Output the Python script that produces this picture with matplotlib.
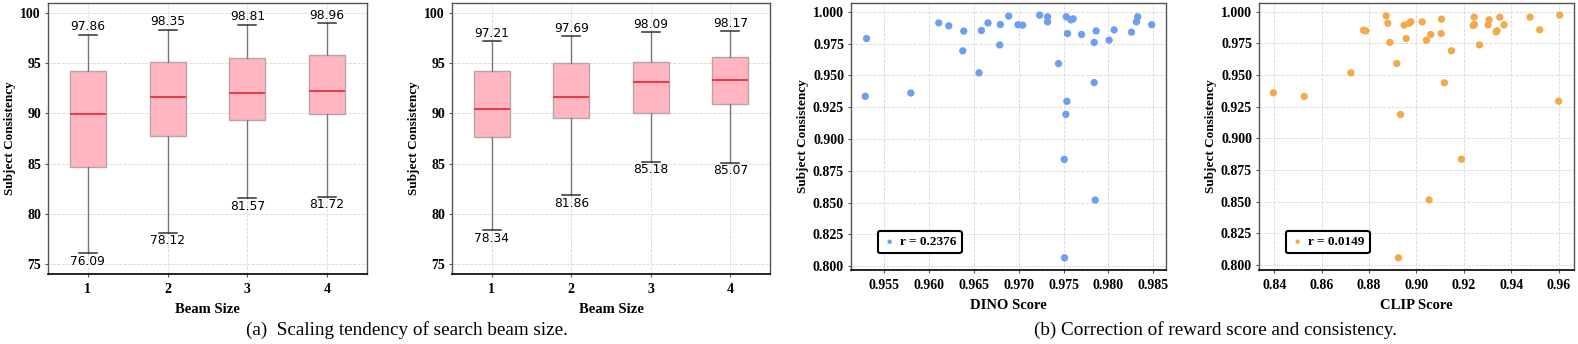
import matplotlib
matplotlib.use("Agg")
import matplotlib.pyplot as plt
import numpy as np

# ---------------- data ----------------
beam_sizes = [1, 2, 3, 4]

# panel (a-left)
a1_whislo = [76.09, 78.12, 81.57, 81.72]
a1_q1 = [84.62, 87.78, 89.30, 89.97]
a1_med = [89.94, 91.60, 92.03, 92.26]
a1_q3 = [94.25, 95.08, 95.52, 95.78]
a1_whishi = [97.86, 98.35, 98.81, 98.96]

# panel (a-right)
a2_whislo = [78.34, 81.86, 85.18, 85.07]
a2_q1 = [87.68, 89.57, 90.04, 90.94]
a2_med = [90.40, 91.63, 93.12, 93.32]
a2_q3 = [94.25, 95.05, 95.12, 95.62]
a2_whishi = [97.21, 97.69, 98.09, 98.17]

# panel (b-left): DINO score vs subject consistency
dino_x = [0.95307, 0.95293, 0.95800, 0.96111, 0.96222, 0.96389, 0.96378, 0.96559,
          0.96585, 0.96659, 0.96796, 0.96789, 0.96889, 0.96993, 0.97044, 0.97233,
          0.97322, 0.97322, 0.97444, 0.97530, 0.97544, 0.97581, 0.97607, 0.97537,
          0.97526, 0.97507, 0.97511, 0.97700, 0.97841, 0.97863, 0.97841, 0.97852,
          0.98007, 0.98063, 0.98256, 0.98311, 0.98326, 0.98481]
dino_y = [0.9790, 0.9336, 0.9362, 0.9913, 0.9890, 0.9848, 0.9693, 0.9520,
          0.9853, 0.9913, 0.9900, 0.9740, 0.9966, 0.9898, 0.9895, 0.9974,
          0.9961, 0.9921, 0.9593, 0.9961, 0.9829, 0.9937, 0.9945, 0.9297,
          0.9194, 0.8840, 0.8066, 0.9822, 0.9759, 0.9850, 0.9444, 0.8520,
          0.9777, 0.9858, 0.9840, 0.9921, 0.9961, 0.9898]
dino_r = "r = 0.2376"

# panel (b-right): CLIP score vs subject consistency
clip_x = [0.83960, 0.85265, 0.87232, 0.87766, 0.87864, 0.88721, 0.88791, 0.88875,
          0.89170, 0.89325, 0.89240, 0.89479, 0.89564, 0.89690, 0.89761, 0.90239,
          0.90422, 0.90534, 0.90604, 0.91040, 0.91054, 0.91180, 0.91475, 0.91897,
          0.92390, 0.92432, 0.92446, 0.92657, 0.93022, 0.93064, 0.93359, 0.93401,
          0.93514, 0.93696, 0.94792, 0.95199, 0.96042, 0.96000]
clip_y = [0.9360, 0.9331, 0.9518, 0.9855, 0.9850, 0.9968, 0.9910, 0.9758,
          0.9592, 0.9189, 0.8056, 0.9895, 0.9789, 0.9910, 0.9921, 0.9921,
          0.9776, 0.8514, 0.9821, 0.9829, 0.9942, 0.9439, 0.9692, 0.8836,
          0.9892, 0.9958, 0.9900, 0.9739, 0.9897, 0.9937, 0.9842, 0.9850,
          0.9958, 0.9897, 0.9958, 0.9858, 0.9974, 0.9294]
clip_r = "r = 0.0149"

caption_a = "(a)  Scaling tendency of search beam size."
caption_b = "(b) Correction of reward score and consistency."

# ---------------- style ----------------
SERIF = "Liberation Serif"
W, H = 1578, 344
fig = plt.figure(figsize=(W / 100, H / 100), dpi=100)


def rect(l, r, t, b):
    return [l / W, 1 - b / H, (r - l) / W, (b - t) / H]


def style_axes(ax):
    for name, sp in ax.spines.items():
        sp.set_color("#555555")
        sp.set_linewidth(1.0)
    ax.spines["bottom"].set_color("black")
    ax.spines["bottom"].set_linewidth(1.2)
    ax.grid(True, linestyle="--", color="#d8d8d8", linewidth=0.6)
    ax.set_axisbelow(True)
    ax.tick_params(labelsize=10, length=2.5, width=0.8, color="#555555")
    ax.tick_params(axis="y", pad=2.5)
    ax.tick_params(axis="x", pad=3.8)
    for lab in ax.get_xticklabels() + ax.get_yticklabels():
        lab.set_fontfamily(SERIF)
        lab.set_fontweight("bold")


def box_panel(ax, lo, q1, med, q3, hi):
    stats = []
    for i in range(len(beam_sizes)):
        stats.append(dict(whislo=lo[i], q1=q1[i], med=med[i], q3=q3[i],
                          whishi=hi[i], fliers=[]))
    ax.bxp(stats, positions=beam_sizes, widths=0.45, patch_artist=True,
           showfliers=False,
           boxprops=dict(facecolor="#ffb6c1", edgecolor="#b8a4a8", linewidth=1.0),
           medianprops=dict(color="#e8303a", linewidth=1.3),
           whiskerprops=dict(color="#777777", linewidth=1.0),
           capprops=dict(color="#333333", linewidth=1.1))
    for i, x in enumerate(beam_sizes):
        ax.text(x, hi[i] + 0.15, f"{hi[i]:.2f}", ha="center", va="bottom",
                fontsize=8.8, family="DejaVu Sans")
        ax.text(x, lo[i] - 0.15, f"{lo[i]:.2f}", ha="center", va="top",
                fontsize=8.8, family="DejaVu Sans")
    ax.set_xlim(0.5, 4.5)
    ax.set_ylim(74.0, 101.0)
    ax.set_yticks([75, 80, 85, 90, 95, 100])
    ax.set_xticks(beam_sizes)
    ax.set_xlabel("Beam Size", fontsize=10.5, fontweight="bold", family=SERIF, labelpad=5.5)
    ax.set_ylabel("Subject Consistency", fontsize=9.5, fontweight="bold", family=SERIF, labelpad=3)
    style_axes(ax)


ax1 = fig.add_axes(rect(48, 367, 3, 274))
box_panel(ax1, a1_whislo, a1_q1, a1_med, a1_q3, a1_whishi)
ax2 = fig.add_axes(rect(452, 770, 3, 274))
box_panel(ax2, a2_whislo, a2_q1, a2_med, a2_q3, a2_whishi)


def scatter_panel(ax, x, y, color, label, xlabel, xticks, fmt):
    ax.scatter(x, y, s=28, color=color, edgecolors="none", label=label, zorder=3)
    ax.set_xticks(xticks)
    ax.set_xticklabels([fmt.format(v) for v in xticks])
    ax.set_yticks([0.800, 0.825, 0.850, 0.875, 0.900, 0.925, 0.950, 0.975, 1.000])
    ax.set_yticklabels([f"{v:.3f}" for v in ax.get_yticks()])
    ax.set_xlabel(xlabel, fontsize=10.5, fontweight="bold", family=SERIF, labelpad=5.5)
    ax.set_ylabel("Subject Consistency", fontsize=9.5, fontweight="bold", family=SERIF, labelpad=3)
    style_axes(ax)
    leg = ax.legend(loc="lower left", bbox_to_anchor=(0.085, 0.062), borderaxespad=0,
                    prop=dict(family=SERIF, weight="bold", size=9.5),
                    frameon=True, fancybox=True, markerscale=0.6,
                    handletextpad=0.3, borderpad=0.4, handlelength=1.0)
    fr = leg.get_frame()
    fr.set_edgecolor("black")
    fr.set_linewidth(1.5)
    fr.set_alpha(1)


ax3 = fig.add_axes(rect(851, 1166, 3, 270))
scatter_panel(ax3, dino_x, dino_y, "#6e9ef2", dino_r, "DINO Score",
              [0.955, 0.960, 0.965, 0.970, 0.975, 0.980, 0.985], "{:.3f}")
ax4 = fig.add_axes(rect(1259, 1574, 3, 270))
scatter_panel(ax4, clip_x, clip_y, "#f4aa4c", clip_r, "CLIP Score",
              [0.84, 0.86, 0.88, 0.90, 0.92, 0.94, 0.96], "{:.2f}")

fig.text(406.6 / W, 1 - 330 / H, caption_a, ha="center", va="center",
         fontsize=13.8, family=SERIF)
fig.text(1216 / W, 1 - 330 / H, caption_b, ha="center", va="center",
         fontsize=13.8, family=SERIF)

fig.savefig("out.png", dpi=100)
